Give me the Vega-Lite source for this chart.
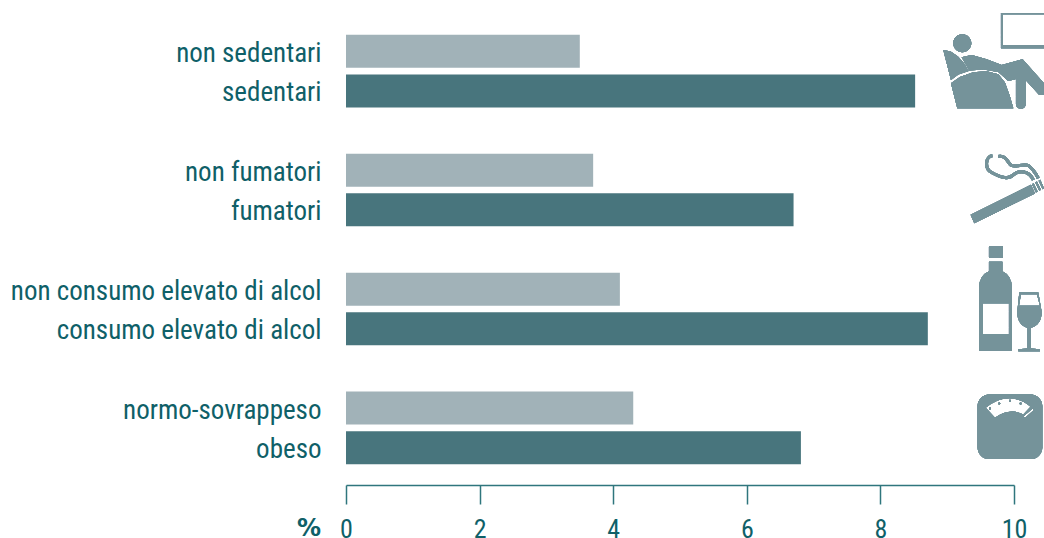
{
"$schema":"https://vega.github.io/schema/vega-lite/v6.json",
"width":668,"height":471,
"autosize":{"type":"none"},
"padding":{"left":346,"top":14,"right":30,"bottom":53},
"background":"white",
"config":{"view":{"stroke":null}},
"data":{"values":[
{"label":"non sedentari","value":3.5,"group":"no"},
{"label":"sedentari","value":8.52,"group":"si"},
{"label":"non fumatori","value":3.7,"group":"no"},
{"label":"fumatori","value":6.7,"group":"si"},
{"label":"non consumo elevato di alcol","value":4.1,"group":"no"},
{"label":"consumo elevato di alcol","value":8.71,"group":"si"},
{"label":"normo-sovrappeso","value":4.3,"group":"no"},
{"label":"obeso","value":6.81,"group":"si"}
]},
"layer":[
{"mark":{"type":"bar","height":33},
 "encoding":{
  "x":{"field":"value","type":"quantitative","scale":{"domain":[0,10]},
   "axis":{"values":[0,2,4,6,8,10],"format":"d","grid":false,"title":"%","titleFont":"DejaVu Sans","titleFontWeight":"bold","titleFontSize":24,"titleColor":"#0f6068","titleX":-37.5,"titleY":43,"titleAlign":"center","titleBaseline":"middle","domainColor":"#2f767d","tickColor":"#2f767d","domainWidth":1.5,"tickWidth":1.5,"tickSize":19,"labelFont":"Roboto Condensed, Roboto","labelFontSize":26,"labelColor":"#0f6068","labelPadding":12,"labelBaseline":"top","labelFlush":false}},
  "y":{"field":"label","type":"nominal","title":null,
   "scale":{"domain":["non sedentari","sedentari"," ","non fumatori","fumatori","  ","non consumo elevato di alcol","consumo elevato di alcol","   ","normo-sovrappeso","obeso"],"paddingInner":0.168,"paddingOuter":0.5235},
   "axis":{"domain":false,"ticks":false,"labelFont":"Roboto Condensed, Roboto","labelFontSize":27,"labelColor":"#0f6068","labelPadding":25,"labelLimit":340,"labelOffset":2.5}},
  "color":{"field":"group","type":"nominal","legend":null,"scale":{"domain":["no","si"],"range":["#a1b2b8","#48757d"]}}
 }},
{"mark":{"type":"point","filled":true,"opacity":1,"size":0.4444,"color":"#75939a","strokeWidth":0,"shape":"M21,-234 L150,-234 L150,-128 L21,-128 Z M26,-230 L26,-137 L150,-137 L150,-230 Z M-122,-143 A27,27 0 1 1 -68,-143 A27,27 0 1 1 -122,-143 Z M-152,-123 L-130,-118 L-108,-103 L-90,-83 L-76,-60 L-107,-49 L-129,-33 Z M-129,-23 L-102,-42 L-62,-56 L-22,-59 L13,-50 L33,-25 L48,17 L58,52 L-110,52 Z M-97,-101 L-67,-108 L-22,-95 L23,-78 L86,-95 L150,-23 L150,12 L136,12 L95,-33 L95,39 A14.5,14.5 0 0 1 66,39 L66,-36 L43,-30 L13,-57 L-32,-64 L-74,-61 Z"},
 "encoding":{"x":{"datum":9.7,"type":"quantitative"},"y":{"datum":"sedentari","type":"nominal"}}},
{"mark":{"type":"point","filled":true,"opacity":1,"size":0.4444,"color":"#75939a","strokeWidth":0,"shape":"M-70,15 L111,-75 L123,-49 L-59,40 Z M114,-77 L119,-80 L131,-55 L126,-52 Z M124,-82 L129,-85 L141,-60 L136,-57 Z M134,-87 L139,-90 L150,-65 L146,-62 Z"},
 "encoding":{"x":{"datum":9.7,"type":"quantitative"},"y":{"datum":"fumatori","type":"nominal"}}},
{"mark":{"type":"point","filled":false,"opacity":1,"size":0.4444,"color":"#75939a","strokeWidth":3,"shape":"M-5,-162 C-25,-160 -30,-125 -7,-112 C15,-100 40,-88 58,-105 C75,-120 105,-118 118,-90 M13,-160 C35,-165 40,-145 50,-135 C60,-125 90,-140 103,-133 C115,-125 125,-110 133,-95"},
 "encoding":{"x":{"datum":9.7,"type":"quantitative"},"y":{"datum":"fumatori","type":"nominal"}}},
{"mark":{"type":"point","filled":true,"opacity":1,"size":0.4444,"color":"#75939a","strokeWidth":0,"shape":"M-15,-248 L27,-248 L27,-213 L-15,-213 Z M-15,-201 L25,-201 L25,-173 Q53,-160 53,-126 L53,66 L-44,66 L-44,-126 Q-44,-160 -15,-173 Z M-34,-77 L-34,17 L45,17 L45,-77 Z M76,-109 L133,-109 L143,-51 Q143,-11 110,-3 L110,59 L138,61 L138,67 L73,67 L73,61 L101,59 L101,-3 Q70,-11 70,-51 Z M81,-104 L75,-69 L138,-69 L129,-104 Z"},
 "encoding":{"x":{"datum":9.7,"type":"quantitative"},"y":{"datum":"consumo elevato di alcol","type":"nominal"}}},
{"mark":{"type":"point","filled":true,"opacity":1,"size":0.4444,"color":"#75939a","strokeWidth":0,"shape":"M-14,-160 L110,-160 A35,35 0 0 1 145,-125 L145,-1 A35,35 0 0 1 110,34 L-14,34 A35,35 0 0 1 -49,-1 L-49,-125 A35,35 0 0 1 -14,-160 Z M-25,-120 L3,-90 Q48,-121 88,-100 L110,-123 Q46,-175 -25,-120 Z M88,-94 L93,-89 L120,-113 L116,-118 Z M-15,-118 A3,3 0 1 1 -9,-118 A3,3 0 1 1 -15,-118 Z M13,-133 A3,3 0 1 1 19,-133 A3,3 0 1 1 13,-133 Z M45,-141 A3,3 0 1 1 51,-141 A3,3 0 1 1 45,-141 Z M77,-133 A3,3 0 1 1 83,-133 A3,3 0 1 1 77,-133 Z"},
 "encoding":{"x":{"datum":9.7,"type":"quantitative"},"y":{"datum":"obeso","type":"nominal"}}}
]
}
